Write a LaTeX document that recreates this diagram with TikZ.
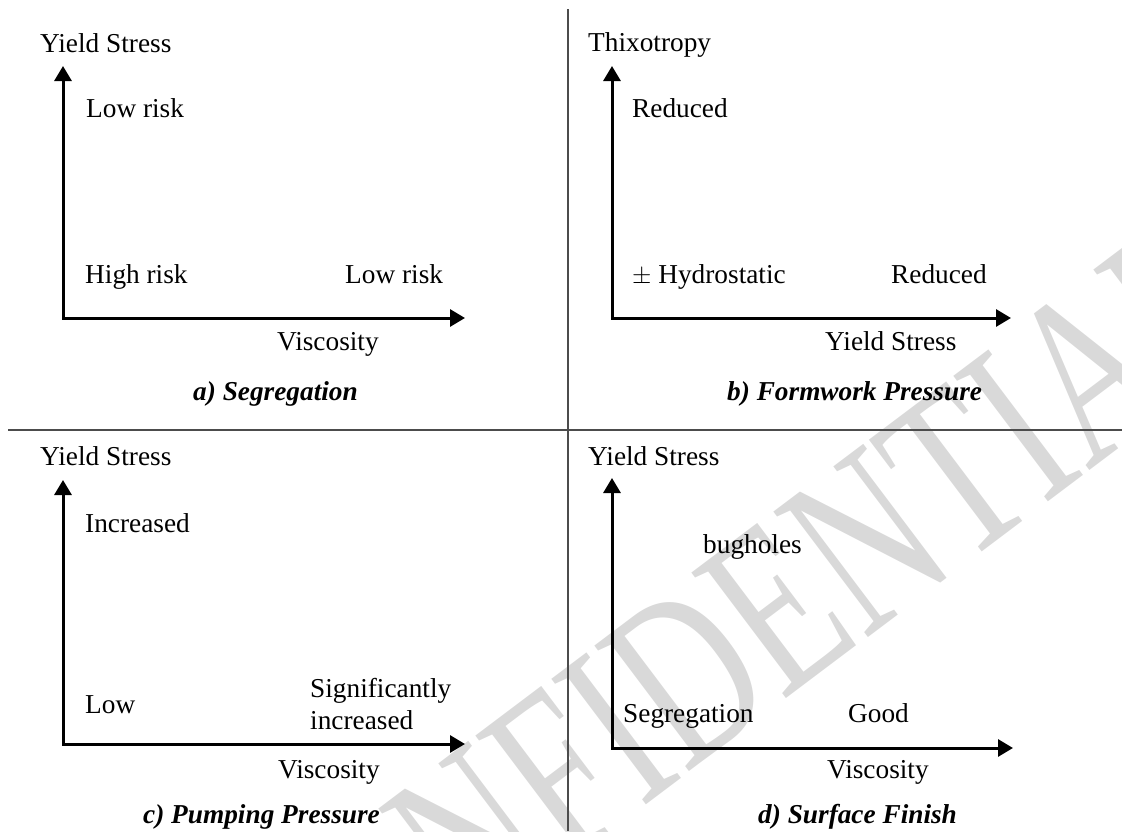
\documentclass[tikz,border=0pt]{standalone}
\usepackage{fontspec}
\setmainfont{Liberation Serif}
\usepackage{pdfrender}
\usetikzlibrary{arrows.meta}

\definecolor{wmgray}{gray}{0.85}
\definecolor{rulegray}{gray}{0.3}

\begin{document}
\begin{tikzpicture}[x=1pt, y=-1pt,
    lbl/.style={anchor=base west, inner sep=0pt, font=\fontsize{27.3}{30}\selectfont},
    capt/.style={lbl, font=\fontsize{27.3}{30}\selectfont\bfseries\itshape},
    axis/.style={line width=3pt, miter limit=10,
      {Triangle[length=15pt, width=17pt]}-{Triangle[length=15pt, width=17pt]}},
    rule/.style={draw=rulegray, line width=1.3pt}]
  \useasboundingbox (0,0) rectangle (1122,831);

  % watermark
  \node[rotate=37, inner sep=0pt, text=wmgray] (wm) at (728,645)
    {\scalebox{0.7}[1]{\fontsize{240}{240}\selectfont\textpdfrender{TextRenderingMode=1, LineWidth=5, StrokeColor=wmgray}{CONFIDENTIAL}}};

  % panel frame
  \coordinate (vt) at (568,9);   \coordinate (vb) at (568,831);
  \coordinate (hl) at (8,430);   \coordinate (hr) at (1122,430);
  \draw[rule] (vt) -- (vb);
  \draw[rule] (hl) -- (hr);

  % axes
  \coordinate (Oa) at (63,318);  \coordinate (Ya) at (63,66);   \coordinate (Xa) at (465,318);
  \coordinate (Ob) at (612,318); \coordinate (Yb) at (612,66);  \coordinate (Xb) at (1011,318);
  \coordinate (Oc) at (63,744);  \coordinate (Yc) at (63,480);  \coordinate (Xc) at (465,744);
  \coordinate (Od) at (612,748); \coordinate (Yd) at (612,478); \coordinate (Xd) at (1013,748);
  \foreach \p in {a,b,c,d}
    \draw[axis] (Y\p) -- (O\p) -- (X\p);

  % a) segregation
  \node[lbl] (ya)  at (40,52)   {Yield Stress};
  \node[lbl] (ha)  at (86,117)  {Low risk};
  \node[lbl] (la)  at (85,283)  {High risk};
  \node[lbl] (ra)  at (345,283) {Low risk};
  \node[lbl] (xa)  at (277,350) {Viscosity};
  \node[capt] (ca) at (193,400) {a) Segregation};

  % b) formwork pressure
  \node[lbl] (yb)  at (588,51)  {Thixotropy};
  \node[lbl] (hb)  at (632,117) {Reduced};
  \node[lbl] (lb)  at (632,283) {$\pm$ Hydrostatic};
  \node[lbl] (rb)  at (891,283) {Reduced};
  \node[lbl] (xb)  at (825,350) {Yield Stress};
  \node[capt] (cb) at (727,400) {b) Formwork Pressure};

  % c) pumping pressure
  \node[lbl] (yc)  at (40,465)  {Yield Stress};
  \node[lbl] (hc)  at (85,532)  {Increased};
  \node[lbl] (lc)  at (85,713)  {Low};
  \node[lbl] (rc)  at (310,697) {Significantly};
  \node[lbl] (rc2) at (310,729) {increased};
  \node[lbl] (xc)  at (278,778) {Viscosity};
  \node[capt] (cc) at (143,823) {c) Pumping Pressure};

  % d) surface finish
  \node[lbl] (yd)  at (588,465) {Yield Stress};
  \node[lbl] (hd)  at (703,553) {bugholes};
  \node[lbl] (ld)  at (623,722) {Segregation};
  \node[lbl] (rd)  at (848,722) {Good};
  \node[lbl] (xd)  at (827,778) {Viscosity};
  \node[capt] (cd) at (758,823) {d) Surface Finish};
\end{tikzpicture}
\end{document}
